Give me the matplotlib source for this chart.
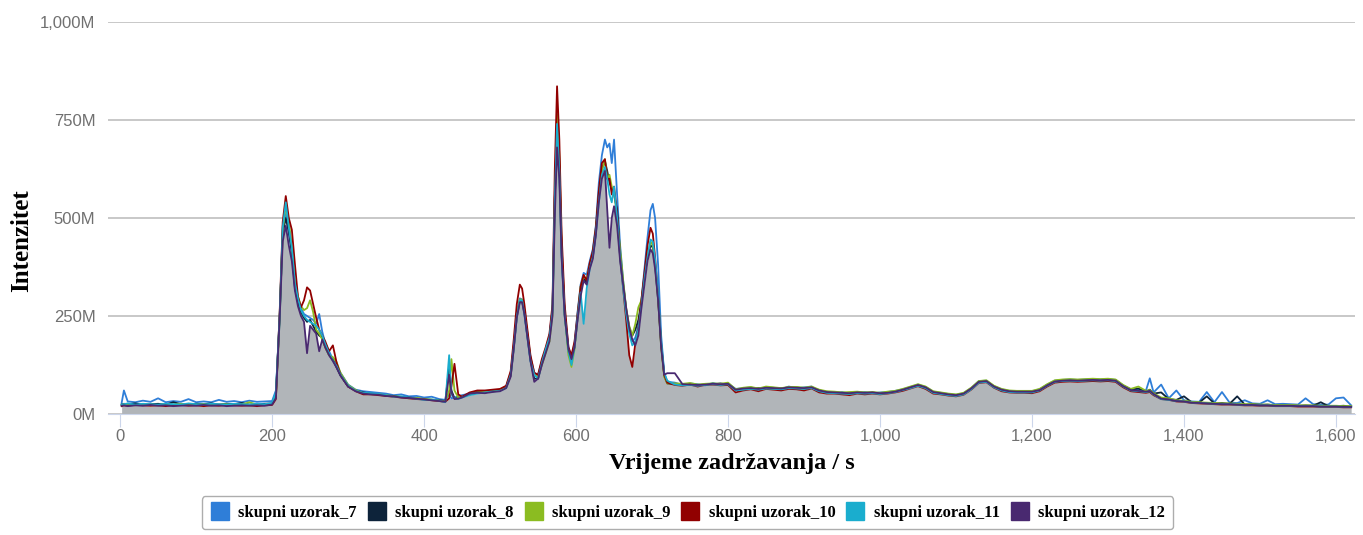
import numpy as np
import matplotlib
matplotlib.use("Agg")
from matplotlib import pyplot as plt
from matplotlib.lines import Line2D
from matplotlib.ticker import FuncFormatter

# vrijeme zadržavanja (s)
t = [2, 5, 10, 20, 30, 40, 50, 60, 70, 80, 90, 100, 110, 120, 130, 140, 150, 160, 170, 180, 190, 200, 205,
     210, 214, 218, 222, 226, 230, 234, 238, 242, 246, 250, 254, 258, 262, 266, 270, 275, 280, 285, 290, 300, 310, 320,
     330, 340, 350, 360, 370, 380, 390, 400, 410, 420, 428, 433, 436, 440, 445, 450, 460, 470, 480, 490, 500, 508,
     514, 518, 522, 526, 529, 532, 536, 540, 545, 550, 555, 560, 565, 569, 572, 575, 578, 581, 585, 590, 594, 598,
     602, 606, 610, 614, 618, 622, 626, 630, 634, 638, 641, 644, 647, 650, 654, 658, 662, 666, 670, 674, 678, 682,
     686, 690, 694, 698, 701, 704, 708, 712, 716, 720,
     730, 740, 750, 760, 770, 780, 790, 800, 810, 820, 830, 840, 850, 860, 870, 880, 890, 900, 910, 920, 930, 940,
     950, 960, 970, 980, 990, 1000,
     1010, 1020, 1030, 1040, 1050, 1060, 1070, 1080, 1090, 1100, 1110, 1120, 1130, 1140, 1150, 1160, 1170, 1180,
     1190, 1200,
     1210, 1220, 1230, 1240, 1250, 1260, 1270, 1280, 1290, 1300, 1310, 1320, 1330, 1340, 1350, 1355, 1360, 1370,
     1380, 1390, 1400,
     1410, 1420, 1430, 1440, 1450, 1460, 1470, 1480, 1490, 1500, 1510, 1520, 1530, 1540, 1550, 1560, 1570, 1580,
     1590, 1600, 1610, 1620]

# intenzitet u milijunima
uzorak_7 = [28, 60, 32, 30, 34, 31, 40, 30, 33, 31, 38, 30, 32, 30, 36, 31, 33, 30, 34, 31, 32, 33, 60,
            240, 480, 510, 460, 410, 320, 290, 270, 255, 250, 245, 240, 230, 255, 210, 180, 160, 140, 125, 105, 75, 62, 58,
            56, 54, 52, 48, 50, 45, 46, 42, 44, 38, 36, 50, 40, 42, 45, 48, 52, 56, 55, 58, 60, 70,
            105, 175, 255, 295, 292, 262, 205, 145, 105, 100, 135, 165, 200, 270, 560, 740, 650, 430, 265, 170, 145, 180,
            260, 330, 360, 355, 390, 420, 480, 590, 660, 700, 680, 690, 640, 700, 560, 430, 340, 265, 215, 185, 195, 225,
            290, 370, 450, 520, 536, 500, 380, 200, 105, 82,
            80, 74, 78, 76, 73, 79, 75, 78, 64, 66, 68, 62, 69, 67, 64, 70, 66, 68, 70, 58, 57, 53, 56, 52, 54, 56, 53, 55,
            56, 59, 63, 69, 75, 69, 57, 54, 51, 49, 53, 66, 84, 85, 71, 63, 59, 58, 58, 58,
            63, 75, 85, 87, 88, 87, 88, 89, 88, 89, 87, 73, 63, 62, 60, 91, 55, 75, 40, 60, 35,
            32, 31, 56, 30, 56, 29, 28, 35, 27, 26, 35, 25, 26, 25, 24, 40, 25, 24, 24, 40, 42, 22]
uzorak_8 = [24, 26, 25, 27, 24, 25, 26, 24, 30, 25, 24, 26, 25, 27, 24, 26, 25, 28, 24, 25, 26, 27, 48,
            255, 460, 500, 465, 415, 325, 285, 260, 245, 235, 240, 225, 210, 200, 195, 170, 150, 138, 118, 98, 70, 60, 55,
            52, 50, 47, 46, 43, 42, 40, 38, 36, 35, 33, 120, 60, 40, 40, 43, 50, 56, 55, 58, 60, 68,
            98, 168, 248, 288, 288, 258, 198, 138, 90, 90, 128, 158, 195, 265, 550, 720, 630, 410, 255, 160, 135, 170,
            245, 315, 345, 335, 375, 400, 460, 560, 625, 645, 620, 590, 575, 560, 520, 410, 330, 265, 220, 200, 215, 240,
            285, 350, 400, 430, 425, 380, 290, 175, 98, 78,
            76, 76, 75, 73, 76, 76, 78, 75, 61, 64, 65, 66, 66, 65, 66, 67, 68, 65, 67, 61, 55, 56, 53, 54, 56, 53, 55, 52,
            55, 57, 62, 67, 74, 67, 56, 52, 50, 48, 52, 64, 82, 83, 70, 62, 58, 56, 57, 56,
            62, 74, 84, 86, 87, 86, 87, 88, 87, 88, 86, 72, 62, 65, 57, 62, 52, 55, 38, 36, 45,
            30, 29, 45, 27, 28, 26, 45, 24, 25, 23, 24, 22, 23, 22, 21, 22, 21, 30, 20, 20, 21, 19]
uzorak_9 = [23, 25, 24, 22, 25, 24, 23, 25, 24, 26, 23, 24, 25, 23, 24, 25, 23, 24, 30, 24, 23, 25, 42,
            245, 470, 530, 490, 430, 340, 300, 275, 265, 270, 290, 260, 215, 205, 190, 170, 150, 145, 132, 105, 74, 61, 53,
            51, 50, 48, 45, 44, 40, 41, 38, 37, 34, 32, 60, 140, 60, 42, 44, 50, 55, 56, 57, 60, 67,
            100, 172, 252, 292, 292, 265, 205, 142, 100, 95, 125, 155, 185, 255, 545, 765, 660, 430, 255, 150, 120, 165,
            250, 325, 350, 345, 380, 410, 470, 555, 620, 650, 600, 610, 580, 570, 500, 420, 340, 270, 225, 200, 230, 272,
            290, 350, 405, 440, 430, 385, 295, 170, 95, 78,
            78, 77, 79, 75, 77, 78, 77, 80, 63, 67, 69, 65, 70, 68, 66, 69, 69, 67, 70, 62, 58, 57, 55, 56, 57, 55, 56, 54,
            57, 59, 64, 70, 76, 70, 58, 55, 52, 50, 54, 67, 84, 86, 72, 64, 60, 59, 59, 59,
            64, 76, 86, 88, 89, 88, 89, 90, 89, 90, 88, 74, 64, 70, 59, 61, 53, 42, 40, 35, 34,
            31, 30, 29, 28, 27, 27, 26, 25, 25, 24, 24, 23, 23, 23, 22, 22, 22, 21, 21, 21, 20, 20]
uzorak_10 = [20, 22, 21, 23, 22, 21, 22, 20, 22, 23, 21, 22, 20, 22, 21, 23, 22, 21, 22, 20, 22, 23, 38,
             260, 490, 556, 500, 470, 383, 300, 272, 290, 323, 315, 280, 246, 215, 200, 185, 160, 175, 130, 100, 70, 58, 50,
             50, 48, 46, 44, 42, 40, 38, 37, 35, 33, 31, 40, 70, 128, 50, 44, 55, 60, 60, 62, 64, 72,
             110, 190, 280, 330, 320, 280, 215, 150, 105, 100, 140, 170, 205, 280, 620, 836, 700, 460, 280, 170, 150, 185,
             255, 325, 355, 340, 385, 415, 475, 570, 640, 650, 600, 600, 560, 580, 510, 400, 320, 240, 150, 120, 180, 220,
             290, 360, 430, 475, 460, 400, 300, 180, 100, 80,
             74, 72, 75, 70, 74, 75, 73, 74, 55, 60, 63, 58, 64, 62, 60, 64, 63, 60, 65, 55, 52, 52, 50, 48, 52, 50, 52, 50,
             52, 55, 59, 65, 71, 64, 52, 50, 47, 45, 49, 62, 79, 81, 67, 58, 55, 54, 54, 53,
             58, 70, 80, 82, 83, 82, 83, 84, 83, 84, 82, 68, 58, 56, 54, 56, 48, 38, 36, 32, 31,
             28, 27, 26, 25, 24, 24, 23, 22, 22, 21, 21, 20, 20, 20, 19, 19, 19, 18, 18, 18, 17, 17]
uzorak_11 = [24, 25, 27, 24, 26, 25, 24, 26, 25, 24, 27, 25, 24, 26, 25, 24, 26, 25, 24, 26, 25, 28, 55,
             250, 475, 540, 475, 425, 335, 295, 265, 250, 240, 235, 230, 225, 215, 200, 178, 155, 135, 122, 100, 72, 59, 54,
             53, 51, 48, 44, 45, 42, 39, 36, 37, 34, 30, 150, 50, 40, 38, 42, 48, 52, 55, 57, 59, 66,
             100, 168, 248, 290, 290, 255, 195, 135, 100, 90, 130, 165, 195, 260, 540, 740, 620, 400, 250, 160, 125, 170,
             245, 310, 230, 320, 370, 400, 460, 540, 610, 630, 600, 560, 540, 580, 500, 400, 320, 255, 205, 175, 185, 215,
             275, 345, 400, 445, 440, 395, 305, 185, 105, 85,
             75, 73, 74, 72, 74, 76, 74, 76, 60, 62, 64, 62, 65, 64, 63, 66, 65, 64, 66, 58, 54, 53, 52, 51, 53, 52, 53, 51,
             53, 56, 61, 66, 72, 66, 54, 51, 48, 46, 50, 63, 80, 82, 68, 60, 56, 55, 55, 55,
             60, 72, 82, 84, 85, 84, 85, 86, 85, 86, 84, 70, 60, 58, 56, 58, 50, 38, 36, 33, 32,
             29, 28, 27, 26, 25, 25, 24, 23, 23, 22, 22, 21, 21, 21, 20, 20, 20, 19, 19, 19, 18, 18]
uzorak_12 = [21, 22, 20, 22, 21, 23, 21, 22, 20, 21, 22, 21, 23, 21, 22, 20, 21, 22, 21, 22, 21, 24, 40,
             245, 440, 480, 430, 390, 315, 275, 250, 235, 155, 225, 215, 205, 160, 190, 170, 150, 135, 118, 98, 70, 58, 52,
             50, 49, 46, 45, 42, 41, 39, 37, 35, 33, 31, 100, 55, 38, 39, 42, 52, 54, 53, 56, 58, 66,
             95, 165, 245, 285, 285, 255, 195, 135, 82, 90, 125, 155, 185, 250, 500, 680, 600, 400, 250, 165, 140, 170,
             240, 300, 340, 330, 370, 395, 455, 540, 600, 620, 520, 424, 500, 530, 480, 390, 330, 270, 220, 190, 175, 200,
             270, 330, 390, 420, 410, 370, 290, 170, 100, 104,
             104, 76, 75, 74, 75, 77, 76, 77, 62, 65, 66, 64, 67, 66, 65, 68, 67, 66, 68, 60, 56, 55, 54, 53, 55, 54, 55, 53,
             54, 57, 62, 68, 74, 68, 56, 53, 50, 48, 52, 65, 82, 84, 70, 62, 58, 57, 57, 57,
             61, 73, 83, 85, 86, 85, 86, 87, 86, 87, 85, 71, 61, 59, 57, 59, 51, 39, 37, 33, 32,
             29, 28, 27, 26, 25, 25, 24, 23, 23, 22, 22, 21, 21, 21, 20, 20, 20, 19, 19, 19, 18, 18]

nazivi = ['skupni uzorak_7', 'skupni uzorak_8', 'skupni uzorak_9',
          'skupni uzorak_10', 'skupni uzorak_11', 'skupni uzorak_12']
boje = ['#2f7ed8', '#0d233a', '#8bbc21', '#910000', '#1aadce', '#492970']
serije = [uzorak_7, uzorak_8, uzorak_9, uzorak_10, uzorak_11, uzorak_12]

t = np.array(t)
Y = np.array(serije) * 1e6

fig = plt.figure(figsize=(13.63, 5.35), dpi=100)
ax = fig.add_axes([0.0792, 0.2262, 0.9149, 0.7327])

# sivo područje ispod krivulja
ax.fill_between(t, 0, Y.min(axis=0), color='#b1b5b9', lw=0, zorder=1)
for y, c in zip(Y, boje):
    ax.plot(t, y, color=c, lw=1.3, zorder=2)

ax.set_xlim(-16, 1625)
ax.set_ylim(0, 1e9)
ax.set_yticks(np.arange(0, 1.01e9, 2.5e8))
ax.set_xticks(np.arange(0, 1601, 200))
ax.yaxis.set_major_formatter(FuncFormatter(lambda v, p: f'{v / 1e6:,.0f}M'))
ax.xaxis.set_major_formatter(FuncFormatter(lambda v, p: f'{v:,.0f}'))
ax.grid(axis='y', color='#c4c4c4', lw=1.3)
ax.set_axisbelow(True)
for s in ['top', 'right', 'left']:
    ax.spines[s].set_visible(False)
ax.spines['bottom'].set_color('#ccd6eb')
ax.tick_params(axis='y', length=0, pad=9, labelsize=12, labelcolor='#707070')
ax.tick_params(axis='x', length=9, color='#ccd6eb', pad=2, labelsize=12, labelcolor='#707070')
for lab in ax.get_xticklabels() + ax.get_yticklabels():
    lab.set_family('Liberation Sans')

fig.text(22 / 1363, 1 - 241 / 535, 'Intenzitet', rotation=90, ha='center', va='center',
         family='Liberation Serif', fontweight='bold', fontsize=18)
ax.set_xlabel('Vrijeme zadržavanja / s', family='Liberation Serif', fontweight='bold', fontsize=17.5, labelpad=6)

ruke = [Line2D([], [], marker='s', ls='none', color=c, markersize=13) for c in boje]
leg = fig.legend(ruke, nazivi, loc='upper center', bbox_to_anchor=(0.5044, 0.088), ncol=6,
                 frameon=True, fancybox=True, edgecolor='#999999', handlelength=1.2, handletextpad=0.5,
                 columnspacing=0.6, borderpad=0.5,
                 prop={'family': 'Liberation Serif', 'weight': 'bold', 'size': 12})
leg.get_frame().set_linewidth(1.0)

fig.savefig('out.png', dpi=100)
